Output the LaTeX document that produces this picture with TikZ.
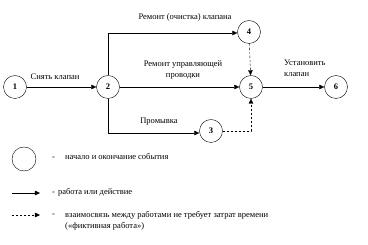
\documentclass[tikz,border=0pt]{standalone}
\usepackage{fontspec}
\setmainfont{Liberation Serif}
\usetikzlibrary{arrows.meta}
\begin{document}
\begin{tikzpicture}[x=1pt,y=-1pt,
  ev/.style={circle,draw,thin,minimum size=23pt,inner sep=0pt,font=\fontsize{8.5}{9}\selectfont\bfseries},
  act/.style={thin,-{Triangle[length=5pt,width=4.5pt]}},
  fict/.style={thin,dash pattern=on 2.5pt off 1.5pt,-{Triangle[length=5pt,width=4.5pt]}},
  lbl/.style={font=\fontsize{8.5}{11}\selectfont,inner sep=0pt,align=center}]
\useasboundingbox (0,0) rectangle (368,245);
\node[ev] (n1) at (15,87) {1};
\node[ev] (n2) at (108,87) {2};
\node[ev] (n4) at (249,32) {4};
\node[ev] (n5) at (251,87) {5};
\node[ev] (n6) at (336,87) {6};
\node[ev] (n3) at (211,131) {3};
\coordinate (tl) at (108,33);
\coordinate (bl) at (108,133);
\coordinate (br) at (251,131);
\draw[act] (n1) -- (n2);
\draw[act] (n2) -- (n5);
\draw[act] (n5) -- (n6);
\draw[thin] (n2) -- (tl);
\draw[thin] (n2) -- (bl);
\draw[act] (tl) -- (tl -| n4.west);
\draw[act] (bl) -- (bl -| n3.west);
\draw[fict] (n4) -- (n5);
\draw[fict] (n3) -- (br) -- (n5);
\node[lbl] (l1) at (55,77) {Снять клапан};
\node[lbl] (l2) at (185,17) {Ремонт (очистка) клапана};
\node[lbl] (l3) at (183,70) {Ремонт управляющей\\проводки};
\node[lbl] (l4) at (159,122) {Промывка};
\node[lbl,align=left,anchor=west] (l5) at (284,68) {Установить\\клапан};
% legend
\node[ev,minimum size=24pt] (lc) at (24,159) {};
\node[lbl,anchor=west] (t1) at (52,157) {-\hspace{10pt}начало и окончание события};
\coordinate (a1) at (12,193);
\coordinate (a2) at (40,193);
\draw[act] (a1) -- (a2);
\node[lbl,anchor=west] (t2) at (52,192) {-\hspace{3pt}работа или действие};
\coordinate (d1) at (12,215);
\coordinate (d2) at (40,215);
\draw[fict] (d1) -- (d2);
\node[lbl,anchor=west] (t3) at (52,215) {-};
\node[lbl,anchor=west,align=left] (t4) at (65,221) {взаимосвязь между работами не требует затрат времени\\(«фиктивная работа»)};
\end{tikzpicture}
\end{document}
